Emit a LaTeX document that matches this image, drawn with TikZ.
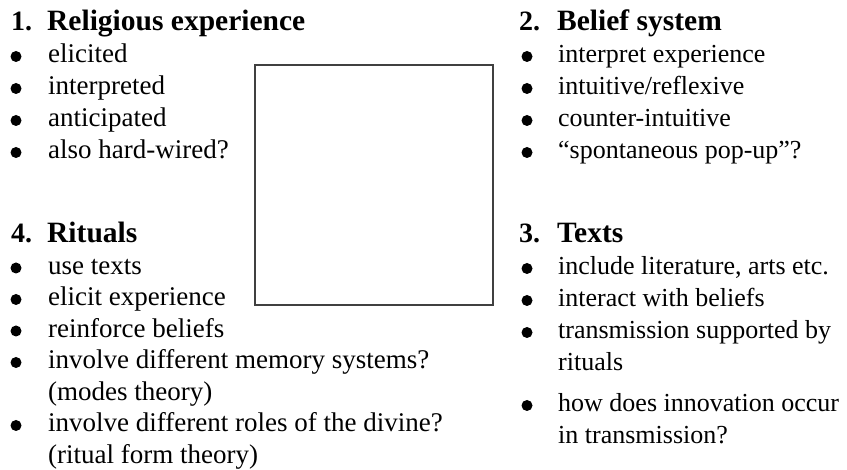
\documentclass[tikz,border=0pt]{standalone}
\usepackage{fontspec}
\setmainfont{Liberation Serif}
\begin{document}
\begin{tikzpicture}[x=1pt,y=-1pt,
  every node/.style={inner sep=0pt,font=\fontsize{27}{32}\selectfont},
  num/.style={anchor=base west,font=\fontsize{28}{32}\selectfont\bfseries},
  head/.style={anchor=base west,font=\fontsize{29.5}{32}\selectfont\bfseries},
  itm/.style={anchor=base west},
  itmr/.style={anchor=base west,font=\fontsize{26}{32}\selectfont},
  dot/.style={circle,fill,minimum size=11pt}]
\useasboundingbox (0,0) rectangle (847,470);

\draw[line width=1.3pt,black!75] (255,65) rectangle (493,305);

% 1. religious experience
\node[num] (n1) at (11,31) {1.};
\node[head] (h1) at (47,31) {Religious experience};
\foreach \t [count=\i] in {elicited,interpreted,anticipated,also hard-wired?}{
  \node[dot] (ba\i) at (16,31+32*\i-6.5) {};
  \node[itm] (ia\i) at (48,31+32*\i) {\t};
}

% 2. belief system
\node[num] (n2) at (519,31) {2.};
\node[head] (h2) at (557,31) {Belief system};
\foreach \t [count=\i] in {interpret experience,intuitive/reflexive,counter-intuitive,“spontaneous pop-up”?}{
  \node[dot] (bb\i) at (527,31+32*\i-6.5) {};
  \node[itmr] (ib\i) at (558,31+32*\i) {\t};
}

% 4. rituals
\node[num] (n4) at (11,243) {4.};
\node[head] (h4) at (47,243) {Rituals};
\foreach \y in {274.5,306,337.5,369,432}
  \node[dot] (bd\y) at (16,\y-6.5) {};
\node[itm] (id1) at (48,274.5) {use texts};
\node[itm] (id2) at (48,306) {elicit experience};
\node[itm] (id3) at (48,337.5) {reinforce beliefs};
\node[itm] (id4) at (48,369) {involve different memory systems?};
\node[itm] (id5) at (48,400.5) {(modes theory)};
\node[itm] (id6) at (48,432) {involve different roles of the divine?};
\node[itm] (id7) at (48,463.5) {(ritual form theory)};

% 3. texts
\node[num] (n3) at (519,243) {3.};
\node[head] (h3) at (557,243) {Texts};
\foreach \y in {275,307,339,412}
  \node[dot] (bc\y) at (527,\y-6.5) {};
\node[itmr] (ic1) at (558,275) {include literature, arts etc.};
\node[itmr] (ic2) at (558,307) {interact with beliefs};
\node[itmr] (ic3) at (558,339) {transmission supported by};
\node[itmr] (ic4) at (558,371) {rituals};
\node[itmr] (ic5) at (558,412) {how does innovation occur};
\node[itmr] (ic6) at (558,444) {in transmission?};

\end{tikzpicture}
\end{document}
